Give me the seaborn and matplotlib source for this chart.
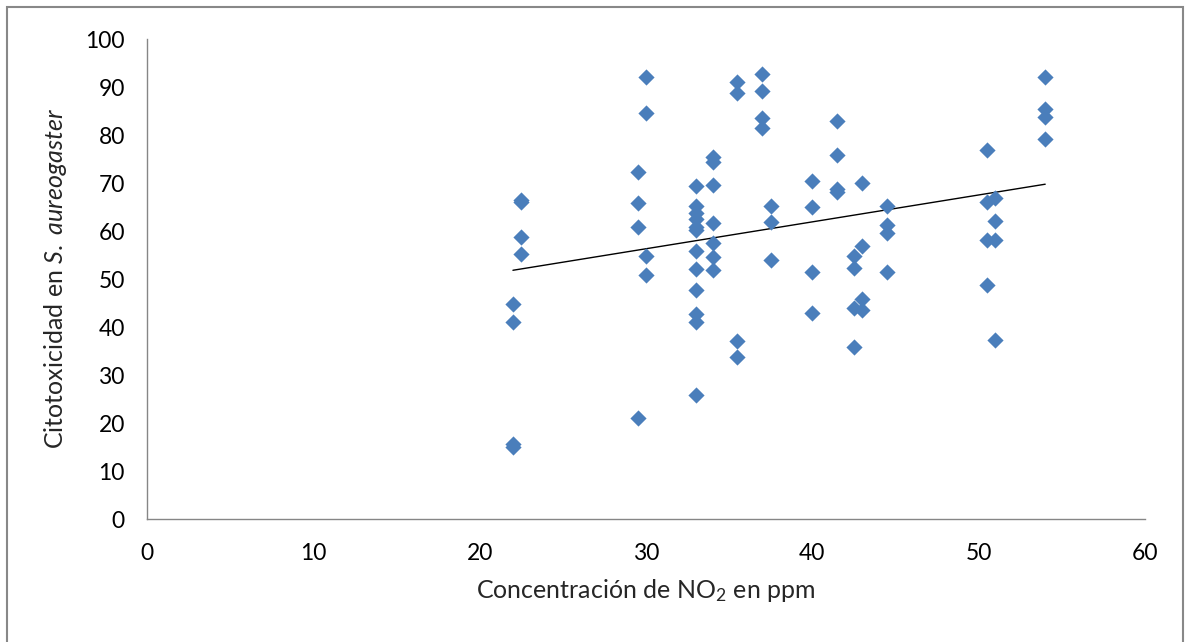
import numpy as np
import pandas as pd
import matplotlib
matplotlib.use("Agg")
import matplotlib.pyplot as plt
import seaborn as sns
from matplotlib.patches import Rectangle

# NO2 concentration (ppm) and cytotoxicity (%)
no2 = ([22] * 4 + [22.5] * 4 + [29.5] * 4 + [30] * 4 + [33] * 12 + [34] * 7
       + [35.5] * 4 + [37] * 4 + [37.5] * 3 + [40] * 4 + [41.5] * 4
       + [42.5] * 4 + [43] * 4 + [44.5] * 4 + [50.5] * 4 + [51] * 4 + [54] * 4)
citotox = [44.8, 41.1, 15.6, 14.9,
           66.5, 66.1, 58.7, 55.3,
           72.2, 65.9, 60.9, 21.0,
           92.0, 84.6, 54.7, 50.8,
           69.4, 65.3, 63.7, 62.6, 60.9, 60.2, 55.8, 52.0, 47.7, 42.7, 41.1, 25.9,
           75.5, 74.4, 69.6, 61.6, 57.4, 54.6, 51.8,
           91.1, 88.7, 37.1, 33.7,
           92.7, 89.2, 83.5, 81.4,
           65.2, 61.9, 54.0,
           70.5, 65.1, 51.5, 43.0,
           83.0, 75.8, 68.7, 68.2,
           54.7, 52.3, 44.0, 35.8,
           69.9, 56.8, 45.9, 43.5,
           65.3, 61.2, 59.5, 51.5,
           76.9, 66.0, 58.1, 48.8,
           66.9, 62.1, 58.1, 37.3,
           92.0, 85.5, 83.8, 79.2]

df = pd.DataFrame({'no2': no2, 'cito': citotox})

sns.set_style('white')
plt.rcParams['font.family'] = ['Lato', 'DejaVu Sans']
plt.rcParams['mathtext.fontset'] = 'custom'
plt.rcParams['mathtext.rm'] = 'Lato'
plt.rcParams['mathtext.it'] = 'Lato:italic'

fig = plt.figure(figsize=(11.91, 6.42), dpi=100)
ax = fig.add_axes([147 / 1191, 123 / 642, 998 / 1191, 480 / 642])

sns.scatterplot(data=df, x='no2', y='cito', marker='D', s=68, color='#4a7ebb',
                edgecolor='#4a7ebb', linewidth=0, ax=ax, zorder=3)
sns.regplot(data=df, x='no2', y='cito', scatter=False, ci=None, ax=ax,
            line_kws={'color': 'black', 'lw': 1, 'zorder': 2})

ax.set_xlim(0, 60)
ax.set_ylim(0, 100)
ax.set_xticks(range(0, 61, 10))
ax.set_yticks(range(0, 101, 10))
ax.tick_params(axis='both', labelsize=16.5, length=7, width=1, color='#868686',
               direction='out', pad=9, labelcolor='black')
ax.tick_params(axis='x', pad=10)
for side in ['top', 'right']:
    ax.spines[side].set_visible(False)
for side in ['left', 'bottom']:
    ax.spines[side].set_color('#868686')
    ax.spines[side].set_linewidth(1)

ax.set_xlabel(r'Concentración de NO$_2$ en ppm', fontsize=18, labelpad=10)
ax.set_ylabel(r'Citotoxicidad en $S.\ aureogaster$', fontsize=18, labelpad=12)

# chart border
fig.patches.append(Rectangle((7 / 1191, -0.05), 1176 / 1191, 1.05 - 7 / 642,
                             transform=fig.transFigure, fill=False,
                             edgecolor='#888888', lw=1.5))

fig.savefig('out.png', dpi=100)
